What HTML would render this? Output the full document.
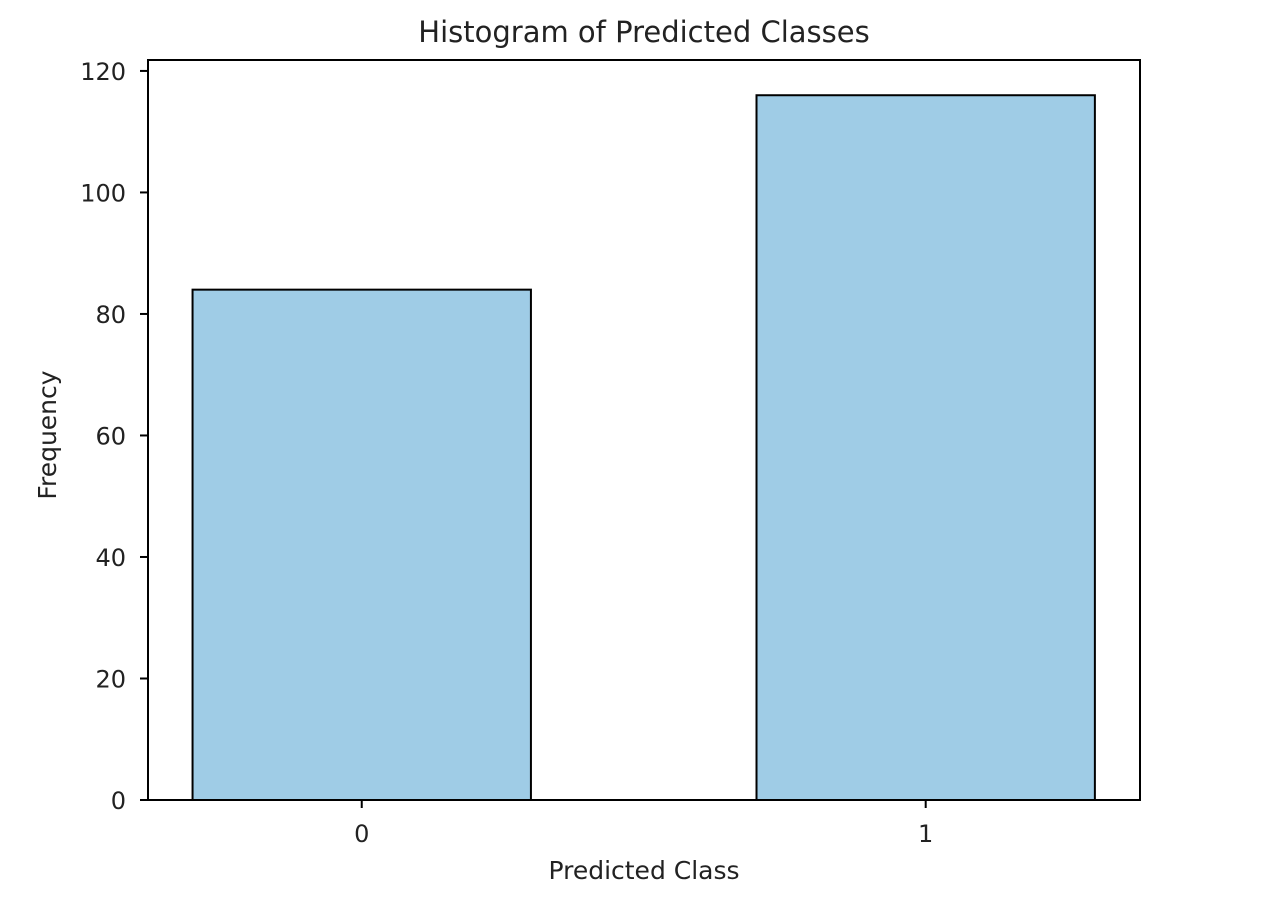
<!DOCTYPE html>
<html><head><meta charset="utf-8"><style>
html,body{margin:0;padding:0;background:#fff;}
svg text{font-family:"DejaVu Sans","Liberation Sans",sans-serif;fill:#222;}
</style></head><body>
<svg id="chart" width="1282" height="916" xmlns="http://www.w3.org/2000/svg">
<text x="644" y="42" font-size="29" text-anchor="middle">Histogram of Predicted Classes</text>
<text x="644" y="879" font-size="25" text-anchor="middle">Predicted Class</text>
<text x="0" y="0" font-size="25" text-anchor="middle" transform="translate(56,435) rotate(-90)">Frequency</text>
<g id="bars"></g>
<g id="ticks"></g>
<rect x="148" y="60" width="992" height="740" fill="none" stroke="#000" stroke-width="2"/>
</svg>
<script>
const categories = ["0", "1"];
const counts = [84, 116];
const yTicks = [0, 20, 40, 60, 80, 100, 120];
const barWidth = 0.6;
const L = 148, R = 1140, T = 60, B = 800;
const xMin = -0.379, xMax = 1.38, yMin = 0, yMax = 121.8;
const xs = v => L + (v - xMin) / (xMax - xMin) * (R - L);
const ys = v => B - (v - yMin) / (yMax - yMin) * (B - T);
const NS = "http://www.w3.org/2000/svg";
const bars = document.getElementById("bars"), ticks = document.getElementById("ticks");
categories.forEach((c, i) => {
  const r = document.createElementNS(NS, "rect");
  
  
  r.setAttribute("x", xs(i - barWidth / 2));
  r.setAttribute("width", xs(i + barWidth / 2) - xs(i - barWidth / 2));
  r.setAttribute("y", ys(counts[i]));
  r.setAttribute("height", ys(0) - ys(counts[i]));
  r.setAttribute("fill", "#9fcce6");
  r.setAttribute("stroke", "#000");
  r.setAttribute("stroke-width", "2");
  bars.appendChild(r);
  const tk = document.createElementNS(NS, "line");
  
  
  tk.setAttribute("x1", xs(i)); tk.setAttribute("x2", xs(i));
  tk.setAttribute("y1", B); tk.setAttribute("y2", B + 8);
  tk.setAttribute("stroke", "#000"); tk.setAttribute("stroke-width", "2");
  ticks.appendChild(tk);
  const t = document.createElementNS(NS, "text");
  
  
  t.setAttribute("x", xs(i)); t.setAttribute("y", B + 42);
  t.setAttribute("font-size", "24"); t.setAttribute("text-anchor", "middle");
  t.textContent = c;
  ticks.appendChild(t);
});
yTicks.forEach(v => {
  const tk = document.createElementNS(NS, "line");
  
  
  tk.setAttribute("x1", L - 8); tk.setAttribute("x2", L);
  tk.setAttribute("y1", ys(v)); tk.setAttribute("y2", ys(v));
  tk.setAttribute("stroke", "#000"); tk.setAttribute("stroke-width", "2");
  ticks.appendChild(tk);
  const t = document.createElementNS(NS, "text");
  
  
  t.setAttribute("x", L - 22); t.setAttribute("y", ys(v) + 9);
  t.setAttribute("font-size", "24"); t.setAttribute("text-anchor", "end");
  t.textContent = v;
  ticks.appendChild(t);
});
</script>
</body></html>
